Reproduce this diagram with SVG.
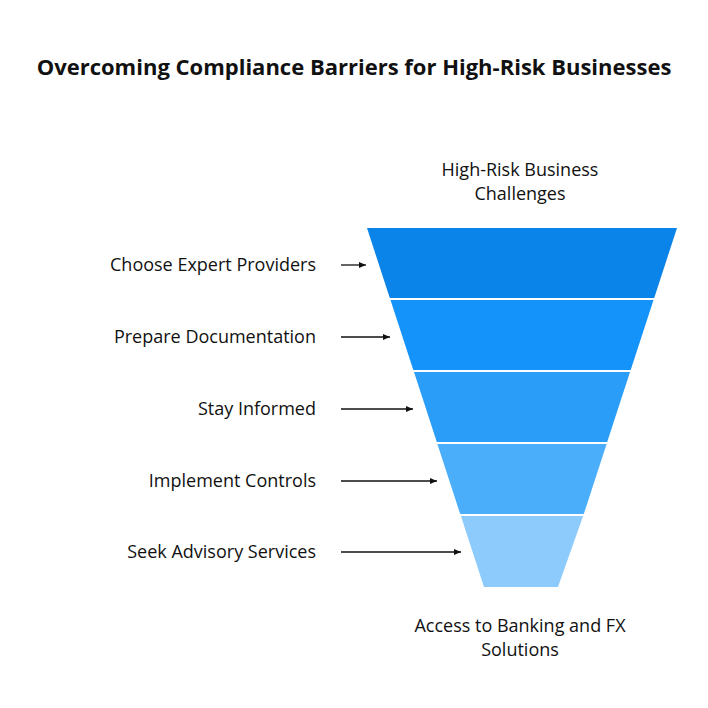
<svg xmlns="http://www.w3.org/2000/svg" width="708" height="708" viewBox="0 0 708 708">
<style>
text{font-family:"Open Sans","Noto Sans",sans-serif;fill:#111;font-size:18px}
.t{font-size:22px;font-weight:bold}
.l{text-anchor:end}
.c{text-anchor:middle}
line{stroke:#111;stroke-width:1.3;marker-end:url(#a)}
</style>
<defs><marker id="a" markerWidth="8" markerHeight="8" refX="7" refY="4" orient="auto" markerUnits="userSpaceOnUse"><path d="M0,1 L7,4 L0,7 Z" fill="#111"/></marker></defs>
<rect width="708" height="708" fill="#fff"/>
<text class="t c" x="354" y="75">Overcoming Compliance Barriers for High-Risk Businesses</text>
<g id="top-label"><text class="c" x="520" y="176">High-Risk Business</text><text class="c" x="520" y="200">Challenges</text></g>
<g id="bottom-label"><text class="c" x="520" y="632">Access to Banking and FX</text><text class="c" x="520" y="656">Solutions</text></g>
<g id="band1"><polygon points="367,228 677,228 654.2,298 389.8,298" fill="#0A84E8"/><text class="l" x="316" y="271">Choose Expert Providers</text></g>
<g id="band2"><polygon points="390.5,300 653.5,300 630.7,370 413.3,370" fill="#1493FA"/><text class="l" x="316" y="343">Prepare Documentation</text></g>
<g id="band3"><polygon points="414,372 630,372 607.2,442 436.8,442" fill="#2A9DF8"/><text class="l" x="316" y="415">Stay Informed</text></g>
<g id="band4"><polygon points="437.4,444 606.6,444 583.8,514 460.2,514" fill="#4AAEFB"/><text class="l" x="316" y="487">Implement Controls</text></g>
<g id="band5"><polygon points="460.9,516 583.1,516 558,587 484,587" fill="#8DCBFD"/><text class="l" x="316" y="558">Seek Advisory Services</text></g>
<g id="connectors">
<line x1="341" y1="265" x2="366" y2="265"/>
<line x1="341" y1="337" x2="390" y2="337"/>
<line x1="341" y1="409" x2="413" y2="409"/>
<line x1="341" y1="481" x2="437" y2="481"/>
<line x1="341" y1="552" x2="461" y2="552"/>
</g>
</svg>
